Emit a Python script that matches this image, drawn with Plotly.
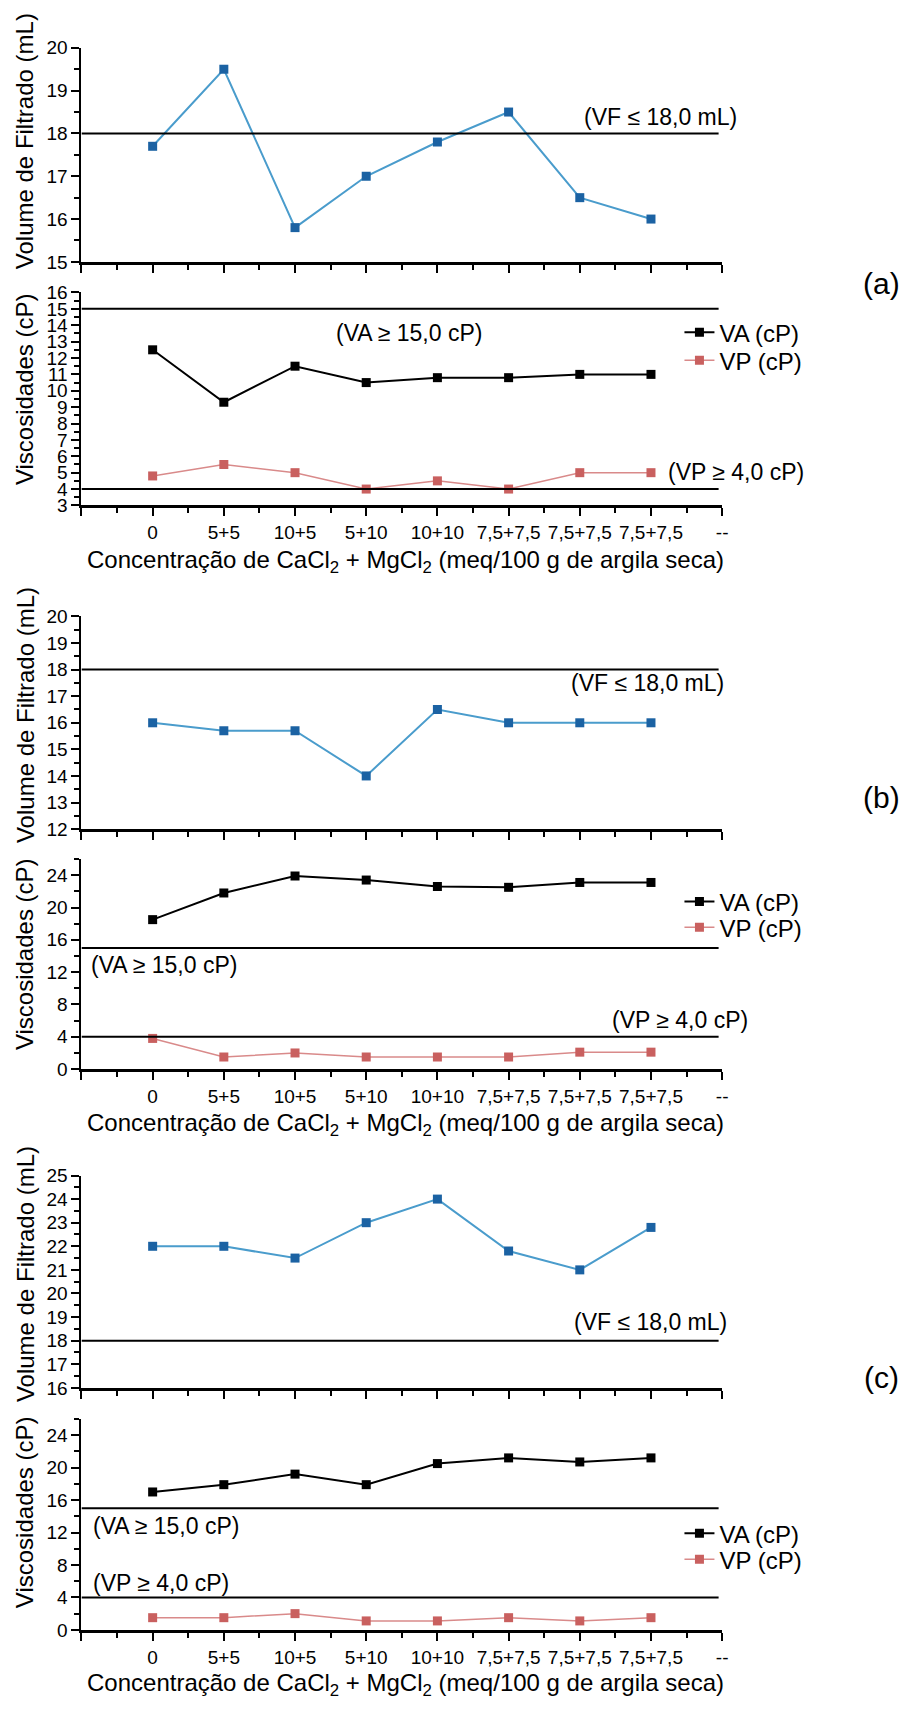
import plotly.graph_objects as go

# ---- data -------------------------------------------------------------
categories = ["0", "5+5", "10+5", "5+10", "10+10", "7,5+7,5", "7,5+7,5", "7,5+7,5"]
x_slots = list(range(1, len(categories) + 1))      # categories sit on slots 1..8 of a 0..9 axis
x_ticktext = [""] + categories + ["--"]

vf_a = [17.7, 19.5, 15.8, 17.0, 17.8, 18.5, 16.5, 16.0]
va_a = [12.5, 9.3, 11.5, 10.5, 10.8, 10.8, 11.0, 11.0]
vp_a = [4.8, 5.5, 5.0, 4.0, 4.5, 4.0, 5.0, 5.0]

vf_b = [16.0, 15.7, 15.7, 14.0, 16.5, 16.0, 16.0, 16.0]
va_b = [18.5, 21.8, 23.9, 23.4, 22.6, 22.5, 23.1, 23.1]
vp_b = [3.8, 1.5, 2.0, 1.5, 1.5, 1.5, 2.1, 2.1]

vf_c = [22.0, 22.0, 21.5, 23.0, 24.0, 21.8, 21.0, 22.8]
va_c = [17.0, 17.9, 19.2, 17.9, 20.5, 21.2, 20.7, 21.2]
vp_c = [1.5, 1.5, 2.0, 1.1, 1.1, 1.5, 1.1, 1.5]

vf_limit = 18.0
va_limit = 15.0
vp_limit = 4.0

vf_label = "(VF \u2264 18,0 mL)"
va_label = "(VA \u2265 15,0 cP)"
vp_label = "(VP \u2265 4,0 cP)"
x_title = "Concentra\u00e7\u00e3o de CaCl<sub>2</sub> + MgCl<sub>2</sub> (meq/100 g de argila seca)"

# ---- page geometry (pixels) ------------------------------------------
W, H = 902, 1709
FONT = "Liberation Sans, Arial, sans-serif"


def px(x):
    return x / W


def py(y):
    return 1 - y / H


X_LEFT, X_RIGHT = 82, 727

# (top_px, bottom_px, y-range, dtick, minor dtick) per subplot, top-to-bottom
panels = [
    dict(vf=vf_a, va=va_a, vp=vp_a,
         top=(38.3, 255.0, [15, 20], 1, 0.5),
         bot=(286.0, 501.6, [3, 16], 1, 0.5),
         legend_y=(326.7, 355.0)),
    dict(vf=vf_b, va=va_b, vp=vp_b,
         top=(614.0, 829.3, [12, 20], 1, 0.5),
         bot=(859.6, 1072.3, [0, 26], 4, 2),
         legend_y=(903.0, 929.0)),
    dict(vf=vf_c, va=va_c, vp=vp_c,
         top=(1180.0, 1395.0, [16, 25], 1, 0.5),
         bot=(1426.5, 1640.0, [0, 26], 4, 2),
         legend_y=(1542.7, 1569.0)),
]

BLUE_LINE = "#4a9ccc"
BLUE_MARK = "#1b62a3"
RED_LINE = "#d98a8a"
RED_MARK = "#c9605f"

fig = go.Figure()
layout = dict(
    width=W, height=H,
    margin=dict(l=0, r=0, t=0, b=0),
    paper_bgcolor="white", plot_bgcolor="white",
    showlegend=True,
    font=dict(family=FONT, color="black"),
)

tick_font = dict(family=FONT, size=19, color="black")
shapes = []
annotations = []

legend_style = dict(xanchor="left", yanchor="middle", bgcolor="rgba(0,0,0,0)",
                    font=dict(family=FONT, size=24, color="black"),
                    tracegroupgap=0, itemwidth=30)


def axis_style():
    return dict(showline=True, linecolor="black", linewidth=2,
                ticks="outside", ticklen=8, tickwidth=2, tickcolor="black",
                showgrid=False, zeroline=False, tickfont=tick_font)


leg_count = 0
for p_idx, pnl in enumerate(panels):
    for s_idx, key in enumerate(["top", "bot"]):
        n = 2 * p_idx + s_idx + 1
        sfx = "" if n == 1 else str(n)
        top_px, bot_px, yrange, dtick, mdtick = pnl[key]

        xa = axis_style()
        xa.update(domain=[px(X_LEFT), px(X_RIGHT)], range=[0, 9], anchor="y" + sfx,
                  tickmode="array", tickvals=list(range(10)), ticktext=x_ticktext,
                  showticklabels=(key == "bot"), linewidth=3,
                  minor=dict(ticks="outside", ticklen=5, tickwidth=1.5, tickcolor="black",
                             tickmode="array", tickvals=[i + 0.5 for i in range(9)]))
        ya = axis_style()
        ya.update(domain=[py(bot_px), py(top_px)], range=yrange, anchor="x" + sfx,
                  tickmode="linear", tick0=yrange[0], dtick=dtick,
                  minor=dict(ticks="outside", ticklen=5, tickwidth=1.5, tickcolor="black",
                             tickmode="linear", tick0=yrange[0], dtick=mdtick))
        layout["xaxis" + sfx] = xa
        layout["yaxis" + sfx] = ya

        if key == "top":
            fig.add_trace(go.Scatter(
                x=x_slots, y=pnl["vf"], mode="lines+markers", showlegend=False,
                line=dict(color=BLUE_LINE, width=2),
                marker=dict(symbol="square", size=9, color=BLUE_MARK),
                xaxis="x" + sfx, yaxis="y" + sfx, cliponaxis=False))
            shapes.append(dict(type="line", xref="x" + sfx, yref="y" + sfx,
                               x0=0, x1=8.95, y0=vf_limit, y1=vf_limit,
                               line=dict(color="black", width=2)))
        else:
            series = [
                ("VA (cP)", pnl["va"], dict(color="black", width=2), "black"),
                ("VP (cP)", pnl["vp"], dict(color=RED_LINE, width=1.5), RED_MARK),
            ]
            for (name, yv, line, mcolor), ly in zip(series, pnl["legend_y"]):
                leg_count += 1
                lg = "legend" if leg_count == 1 else "legend%d" % leg_count
                layout[lg] = dict(x=px(684), y=py(ly), **legend_style)
                fig.add_trace(go.Scatter(
                    x=x_slots, y=yv, mode="lines+markers", name=name,
                    line=line, marker=dict(symbol="square", size=9, color=mcolor),
                    xaxis="x" + sfx, yaxis="y" + sfx, legend=lg, cliponaxis=False))
            for lim in (va_limit, vp_limit):
                shapes.append(dict(type="line", xref="x" + sfx, yref="y" + sfx,
                                   x0=0, x1=8.95, y0=lim, y1=lim,
                                   line=dict(color="black", width=2)))


def text(x, y, s, size, xanchor="center", angle=0):
    annotations.append(dict(x=px(x), y=py(y), xref="paper", yref="paper", text=s,
                            showarrow=False, xanchor=xanchor, yanchor="middle",
                            textangle=angle, font=dict(family=FONT, size=size, color="black")))


# axis titles
for yc in (133, 714, 1280):
    text(25, yc, "Volume de Filtrado (mL)", 24, angle=-90)
for yc in (384, 956, 1521):
    text(24, yc, "Viscosidades (cP)", 24, angle=-90)
for yc in (558, 1128, 1695):
    text(408, yc, x_title, 24)

# limit labels
text(744, 108, vf_label, 23, xanchor="right")
text(412, 327, va_label, 23)
text(670, 468, vp_label, 23, xanchor="left")

text(731, 681, vf_label, 23, xanchor="right")
text(90, 967, va_label, 23, xanchor="left")
text(614, 1023, vp_label, 23, xanchor="left")

text(734, 1328, vf_label, 23, xanchor="right")
text(92, 1535, va_label, 23, xanchor="left")
text(92, 1593, vp_label, 23, xanchor="left")

# panel letters
text(887, 277, "(a)", 30)
text(887, 797, "(b)", 30)
text(887, 1385, "(c)", 30)

layout["shapes"] = shapes
layout["annotations"] = annotations
fig.update_layout(**layout)

fig.write_html("out.html")
